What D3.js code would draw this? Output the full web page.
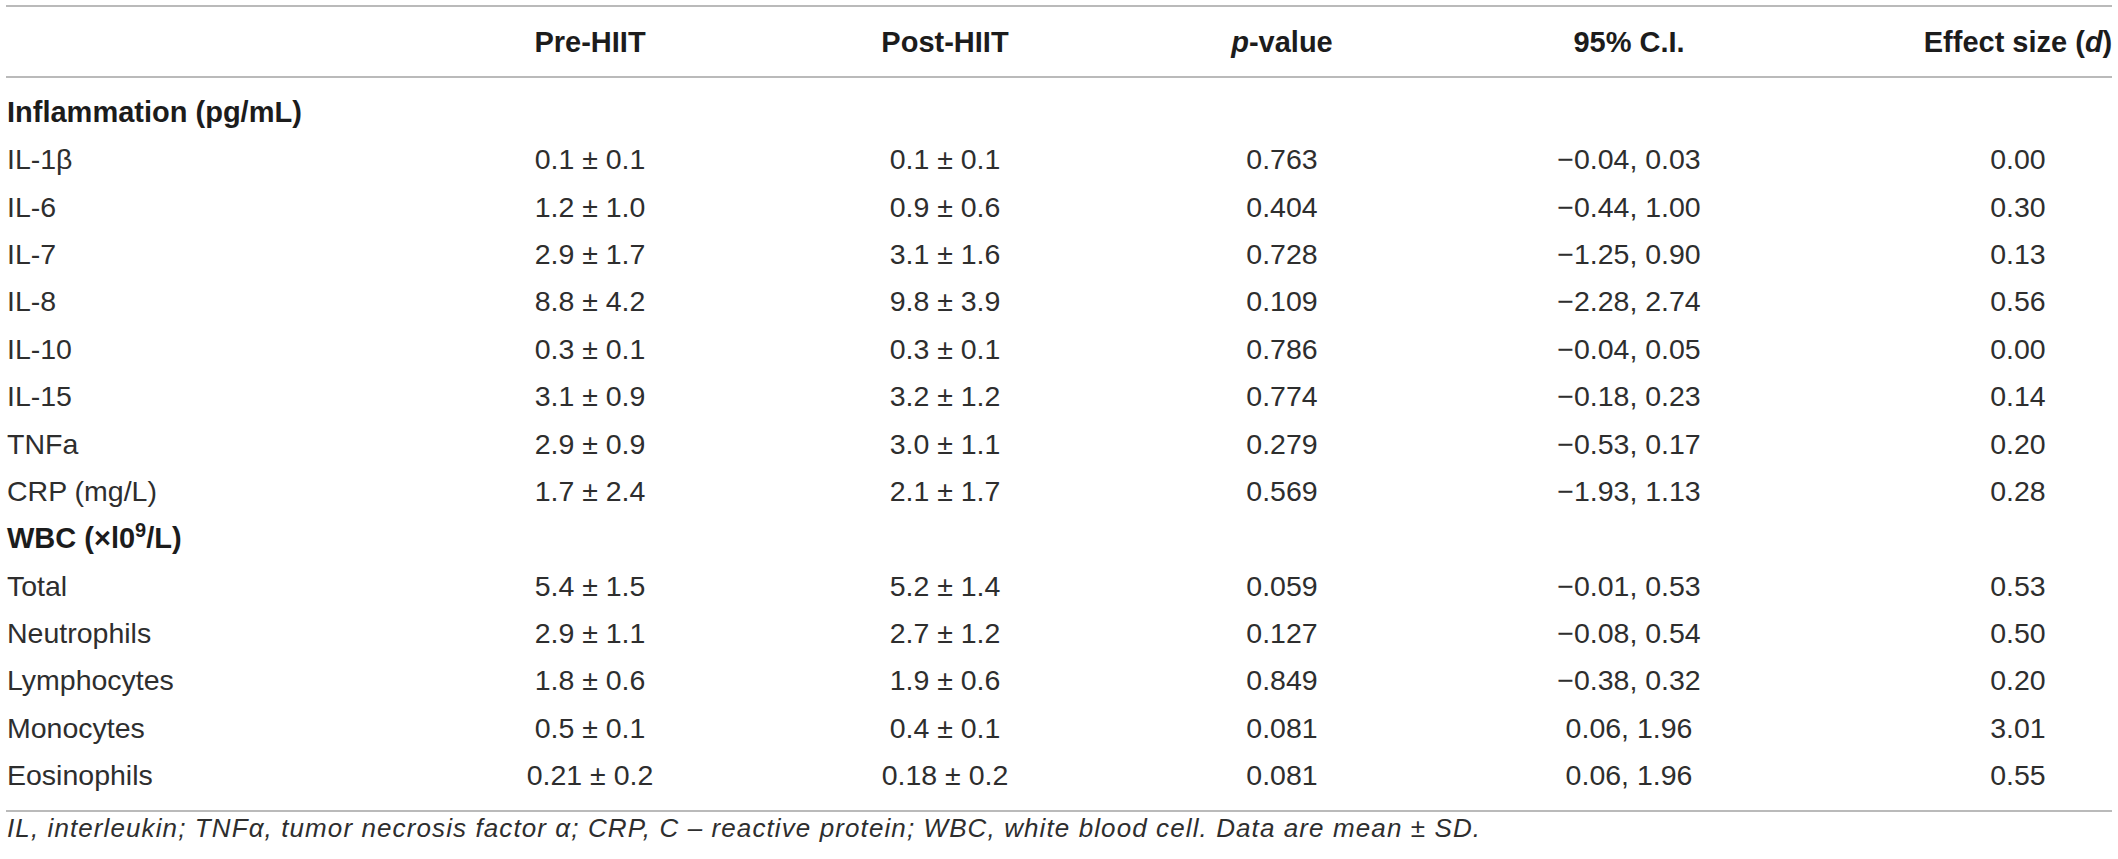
<!DOCTYPE html>
<html lang="en">
<head>
  <meta charset="UTF-8">
  <title>Pre/Post HIIT inflammation and WBC table</title>
  <script src="https://d3js.org/d3.v7.min.js"></script>
  <style>
    body {
      margin: 0;
      background: #fff;
    }

    svg text {
      font-family: "Liberation Sans", Arial, Helvetica, sans-serif;
      fill: #2e2e2e;
    }

    .head {
      font-size: 29px;
      font-weight: bold;
      fill: #1c1c1c;
    }

    .cell {
      font-size: 28.5px;
    }

    .note {
      font-size: 26px;
      font-style: italic;
      letter-spacing: 1.1px;
    }
  </style>
</head>
<body>
  <div id="table"></div>

  <script>
    // Table content
    const columns = ["Pre-HIIT", "Post-HIIT", "p-value", "95% C.I.", "Effect size (d)"];

    const rowLabels = [
      "Inflammation (pg/mL)",
      "IL-1β", "IL-6", "IL-7", "IL-8", "IL-10", "IL-15", "TNFa", "CRP (mg/L)",
      "WBC (×l0^9/L)",
      "Total", "Neutrophils", "Lymphocytes", "Monocytes", "Eosinophils"
    ];

    // section headers (bold, no values)
    const groupRows = ["Inflammation (pg/mL)", "WBC (×l0^9/L)"];

    const dataLabels = ["IL-1β", "IL-6", "IL-7", "IL-8", "IL-10", "IL-15", "TNFa", "CRP (mg/L)",
                        "Total", "Neutrophils", "Lymphocytes", "Monocytes", "Eosinophils"];

    const preHIIT  = ["0.1 ± 0.1", "1.2 ± 1.0", "2.9 ± 1.7", "8.8 ± 4.2", "0.3 ± 0.1", "3.1 ± 0.9", "2.9 ± 0.9", "1.7 ± 2.4",
                      "5.4 ± 1.5", "2.9 ± 1.1", "1.8 ± 0.6", "0.5 ± 0.1", "0.21 ± 0.2"];
    const postHIIT = ["0.1 ± 0.1", "0.9 ± 0.6", "3.1 ± 1.6", "9.8 ± 3.9", "0.3 ± 0.1", "3.2 ± 1.2", "3.0 ± 1.1", "2.1 ± 1.7",
                      "5.2 ± 1.4", "2.7 ± 1.2", "1.9 ± 0.6", "0.4 ± 0.1", "0.18 ± 0.2"];
    const pValues  = ["0.763", "0.404", "0.728", "0.109", "0.786", "0.774", "0.279", "0.569",
                      "0.059", "0.127", "0.849", "0.081", "0.081"];
    const ci95     = ["−0.04, 0.03", "−0.44, 1.00", "−1.25, 0.90", "−2.28, 2.74", "−0.04, 0.05", "−0.18, 0.23", "−0.53, 0.17", "−1.93, 1.13",
                      "−0.01, 0.53", "−0.08, 0.54", "−0.38, 0.32", "0.06, 1.96", "0.06, 1.96"];
    const effectSize = ["0.00", "0.30", "0.13", "0.56", "0.00", "0.14", "0.20", "0.28",
                        "0.53", "0.50", "0.20", "3.01", "0.55"];

    const footnote = "IL, interleukin; TNFα, tumor necrosis factor α; CRP, C – reactive protein; WBC, white blood cell. Data are mean ± SD.";

    const W = 2118, H = 859;

    const svg = d3.select("#table")
      .append("svg")
      .attr("width", W)
      .attr("height", H);

    // row baselines
    const y = d3.scalePoint()
      .domain(rowLabels)
      .range([122, 785]);

    // column centres
    const x = d3.scaleOrdinal()
      .domain(columns)
      .range([590, 945, 1282, 1629, 2018]);

    const left = 7;

    // rules
    const rules = [6, 77, 811];
    svg.selectAll(".rule")
      .data(rules)
      .enter()
      .append("line")
      .attr("class", "rule")
      .attr("x1", 6)
      .attr("x2", 2112)
      .attr("y1", d => d)
      .attr("y2", d => d)
      .attr("stroke", "#a3a3a3")
      .attr("stroke-width", 1.6);

    // column headers
    const heads = svg.selectAll(".colhead")
      .data(columns)
      .enter()
      .append("text")
      .attr("class", "head colhead")
      .attr("x", d => x(d))
      .attr("y", 52)
      .attr("text-anchor", "middle");

    heads.each(function(d) {
      const t = d3.select(this);
      if (d === "p-value") {
        t.append("tspan").attr("font-style", "italic").text("p");
        t.append("tspan").text("-value");
      } else if (d === "Effect size (d)") {
        t.append("tspan").text("Effect size (");
        t.append("tspan").attr("font-style", "italic").text("d");
        t.append("tspan").text(")");
      } else {
        t.text(d);
      }
    });

    // row labels
    svg.selectAll(".rowlabel")
      .data(rowLabels)
      .enter()
      .append("text")
      .attr("class", d => groupRows.includes(d) ? "head rowlabel" : "cell rowlabel")
      .attr("x", left)
      .attr("y", d => y(d))
      .each(function(d) {
        const t = d3.select(this);
        if (d.includes("^")) {
          const [a, rest] = d.split("^");
          t.append("tspan").text(a);
          t.append("tspan").attr("dy", -11).attr("font-size", "20px").text(rest.slice(0, 1));
          t.append("tspan").attr("dy", 11).text(rest.slice(1));
        } else {
          t.text(d);
        }
      });

    // value cells
    const cols = [preHIIT, postHIIT, pValues, ci95, effectSize];
    const cells = [];
    dataLabels.forEach((lab, i) => {
      columns.forEach((c, j) => cells.push({ row: lab, col: c, v: cols[j][i] }));
    });

    svg.selectAll(".val")
      .data(cells)
      .enter()
      .append("text")
      .attr("class", "cell val")
      .attr("x", d => x(d.col))
      .attr("y", d => y(d.row))
      .attr("text-anchor", "middle")
      .text(d => d.v);

    // footnote
    svg.append("text")
      .attr("class", "note")
      .attr("x", left)
      .attr("y", 837)
      .text(footnote);
  </script>
</body>
</html>
